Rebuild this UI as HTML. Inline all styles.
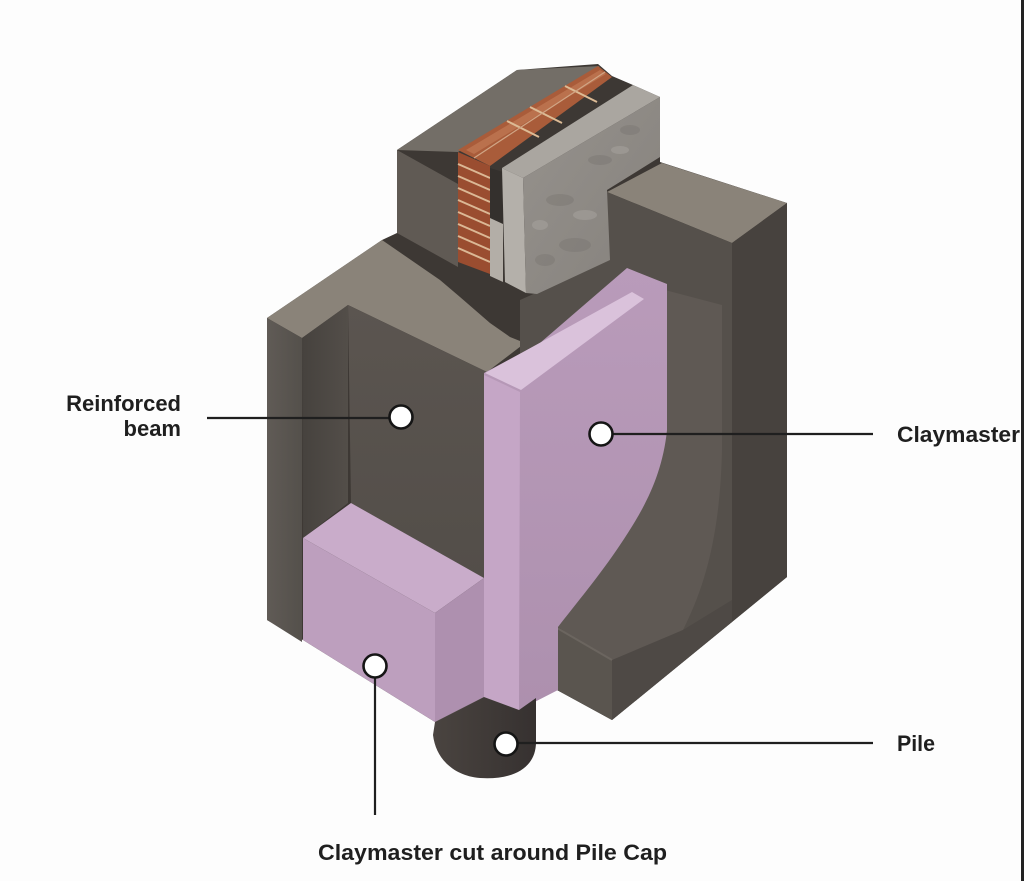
<!DOCTYPE html>
<html>
<head>
<meta charset="utf-8">
<style>
  html,body{margin:0;padding:0;background:#fdfdfd;}
  svg{display:block;}
  text{font-family:"Liberation Sans",Arial,sans-serif;font-weight:bold;fill:#1f1f1f;}
</style>
</head>
<body>
<svg width="1024" height="881" viewBox="0 0 1024 881" xmlns="http://www.w3.org/2000/svg">
  <defs>
    <linearGradient id="gOuter" x1="0" y1="0" x2="1" y2="0">
      <stop offset="0" stop-color="#605b56"/>
      <stop offset="1" stop-color="#54504b"/>
    </linearGradient>
    <linearGradient id="gInner" x1="0" y1="0" x2="1" y2="0">
      <stop offset="0" stop-color="#46423e"/>
      <stop offset="1" stop-color="#534e49"/>
    </linearGradient>
    <linearGradient id="gBack" x1="0" y1="0" x2="0" y2="1">
      <stop offset="0" stop-color="#5b5550"/>
      <stop offset="1" stop-color="#534e49"/>
    </linearGradient>
    <linearGradient id="gPinkSide" x1="0" y1="0" x2="0" y2="1">
      <stop offset="0" stop-color="#b99bba"/>
      <stop offset="1" stop-color="#ad90ae"/>
    </linearGradient>
    <linearGradient id="gPile" x1="0" y1="0" x2="1" y2="0">
      <stop offset="0" stop-color="#4a4440"/>
      <stop offset="1" stop-color="#363130"/>
    </linearGradient>
    <linearGradient id="gBlock" x1="0" y1="0" x2="1" y2="1">
      <stop offset="0" stop-color="#96928d"/>
      <stop offset="1" stop-color="#85817c"/>
    </linearGradient>
  </defs>

  <rect width="1024" height="881" fill="#fdfdfd"/>

  <!-- base dark silhouette -->
  <polygon points="267,318 382,240 397,233 397,150 517,70 598,64 612,76 633,85 660,97 660,162 787,203 787,577 612,720 557,690 536,700 484,697 435,722 303,640 267,620" fill="#3d3834"/>

  <!-- beam top surface -->
  <polygon points="267,318 382,240 440,280 460,297 490,323 510,337 525,343 487,372 348,305 302,338" fill="#8a8379"/>

  <!-- left wall outer face -->
  <polygon points="267,318 302,338 302,642 267,620" fill="url(#gOuter)"/>
  <!-- left wall inner face -->
  <polygon points="302,338 348,305 348,503 303,538" fill="url(#gInner)"/>
  <!-- back wall face (reinforced beam) -->
  <polygon points="348,305 487,372 484,578 351,503" fill="url(#gBack)"/>

  <!-- upstand -->
  <polygon points="397,150 517,70 600,66 458,152" fill="#736e67"/>
  <polygon points="397,150 458,184 458,267 397,233" fill="#605a54"/>

  <!-- brick wall -->
  <polygon points="458,150 598,66 612,77 490,166" fill="#a95c3a"/>
  <polygon points="466,150 600,70 606,74 474,154" fill="#c27a55" opacity="0.7"/>
  <line x1="507" y1="121" x2="539" y2="137" stroke="#dcbb95" stroke-width="2"/>
  <line x1="530" y1="107" x2="562" y2="123" stroke="#dcbb95" stroke-width="2"/>
  <line x1="565" y1="86" x2="597" y2="102" stroke="#dcbb95" stroke-width="2"/>
  <line x1="474" y1="158" x2="605" y2="72" stroke="#d0a585" stroke-width="1.2"/>
  <polygon points="458,152 490,166 490,274 458,262" fill="#9a4d30"/>
  <g stroke="#dbb895" stroke-width="2">
    <line x1="458" y1="164" x2="490" y2="178"/>
    <line x1="458" y1="176" x2="490" y2="190"/>
    <line x1="458" y1="188" x2="490" y2="202"/>
    <line x1="458" y1="200" x2="490" y2="214"/>
    <line x1="458" y1="212" x2="490" y2="226"/>
    <line x1="458" y1="224" x2="490" y2="238"/>
    <line x1="458" y1="236" x2="490" y2="250"/>
    <line x1="458" y1="248" x2="490" y2="262"/>
  </g>
  <!-- cavity + insulation -->
  <polygon points="490,168 503,172 503,282 490,274" fill="#34302d"/>
  <polygon points="490,218 503,224 503,282 490,276" fill="#b3aea7"/>

  <!-- right wall top -->
  <polygon points="607,192 662,163 787,203 732,243" fill="#8a8379"/>
  <!-- right wall front face -->
  <polygon points="607,192 732,243 732,622 612,720 557,690 557,627 520,600 520,300 605,262" fill="#55504b"/>
  <!-- curved fillet band -->
  <path d="M665,290 L722,305 L722,450 C720,540 703,590 683,630 L612,662 L558,627 C575,605 600,575 620,545 C640,515 662,480 665,430 Z" fill="#5f5954"/>
  <!-- right wall right face -->
  <polygon points="732,243 787,203 787,577 732,622" fill="#47423e"/>
  <!-- lip front -->
  <polygon points="557,627 612,660 612,720 557,690" fill="#5a554f"/>
  <line x1="557" y1="628" x2="612" y2="660" stroke="#6b655f" stroke-width="2"/>
  <!-- bottom area under curve -->
  <polygon points="612,660 683,630 732,600 732,622 612,720" fill="#4e4945"/>

  <!-- blockwork -->
  <polygon points="502,168 633,85 660,97 523,178" fill="#aaa6a0"/>
  <polygon points="502,168 523,178 526,293 505,282" fill="#b4b0aa"/>
  <polygon points="523,178 660,97 660,157 607,190 610,260 537,294 526,293" fill="url(#gBlock)"/>
  <g fill="#7a7672" opacity="0.45">
    <ellipse cx="560" cy="200" rx="14" ry="6"/>
    <ellipse cx="600" cy="160" rx="12" ry="5"/>
    <ellipse cx="575" cy="245" rx="16" ry="7"/>
    <ellipse cx="630" cy="130" rx="10" ry="5"/>
    <ellipse cx="545" cy="260" rx="10" ry="6"/>
  </g>
  <g fill="#a9a5a0" opacity="0.5">
    <ellipse cx="585" cy="215" rx="12" ry="5"/>
    <ellipse cx="540" cy="225" rx="8" ry="5"/>
    <ellipse cx="620" cy="150" rx="9" ry="4"/>
  </g>

  <!-- pink panel -->
  <path d="M484,373 L540,343 L627,268 L667,284 L667,430 C662,480 640,515 620,545 C600,575 575,605 558,627 L558,690 L519,710 L484,697 Z" fill="url(#gPinkSide)"/>
  <polygon points="484,375 520,392 519,710 484,697" fill="#c5a6c6"/>
  <polygon points="485,373 632,292 644,299 521,390" fill="#dac2db"/>

  <!-- pink block -->
  <polygon points="303,538 351,503 484,578 435,613" fill="#c9acca"/>
  <polygon points="303,538 435,613 435,722 303,640" fill="#bd9fbe"/>
  <polygon points="435,613 484,578 484,697 435,722" fill="#ae90af"/>

  <!-- pile -->
  <path d="M435,722 L484,697 L519,710 L536,698 L536,742 C536,770 510,780 480,778 C455,776 436,760 433,735 Z" fill="url(#gPile)"/>

  <!-- leader lines -->
  <g stroke="#1f1f1f" stroke-width="2.2" fill="none">
    <line x1="207" y1="418" x2="390" y2="418"/>
    <line x1="612" y1="434" x2="873" y2="434"/>
    <line x1="517" y1="743" x2="873" y2="743"/>
    <line x1="375" y1="677" x2="375" y2="815"/>
  </g>
  <!-- marker circles -->
  <g fill="#ffffff" stroke="#151515" stroke-width="2.6">
    <circle cx="401" cy="417" r="11.5"/>
    <circle cx="601" cy="434" r="11.5"/>
    <circle cx="375" cy="666" r="11.5"/>
    <circle cx="506" cy="744" r="11.5"/>
  </g>

  <!-- labels -->
  <text x="181" y="411" font-size="22" text-anchor="end">Reinforced</text>
  <text x="181" y="436" font-size="22" text-anchor="end">beam</text>
  <text x="897" y="442" font-size="22" textLength="123" lengthAdjust="spacingAndGlyphs">Claymaster</text>
  <text x="897" y="751" font-size="22" textLength="38" lengthAdjust="spacingAndGlyphs">Pile</text>
  <text x="318" y="860" font-size="22" textLength="349" lengthAdjust="spacingAndGlyphs">Claymaster cut around Pile Cap</text>

  <!-- right edge frame line -->
  <rect x="1021" y="0" width="3" height="881" fill="#222"/>
</svg>
</body>
</html>
